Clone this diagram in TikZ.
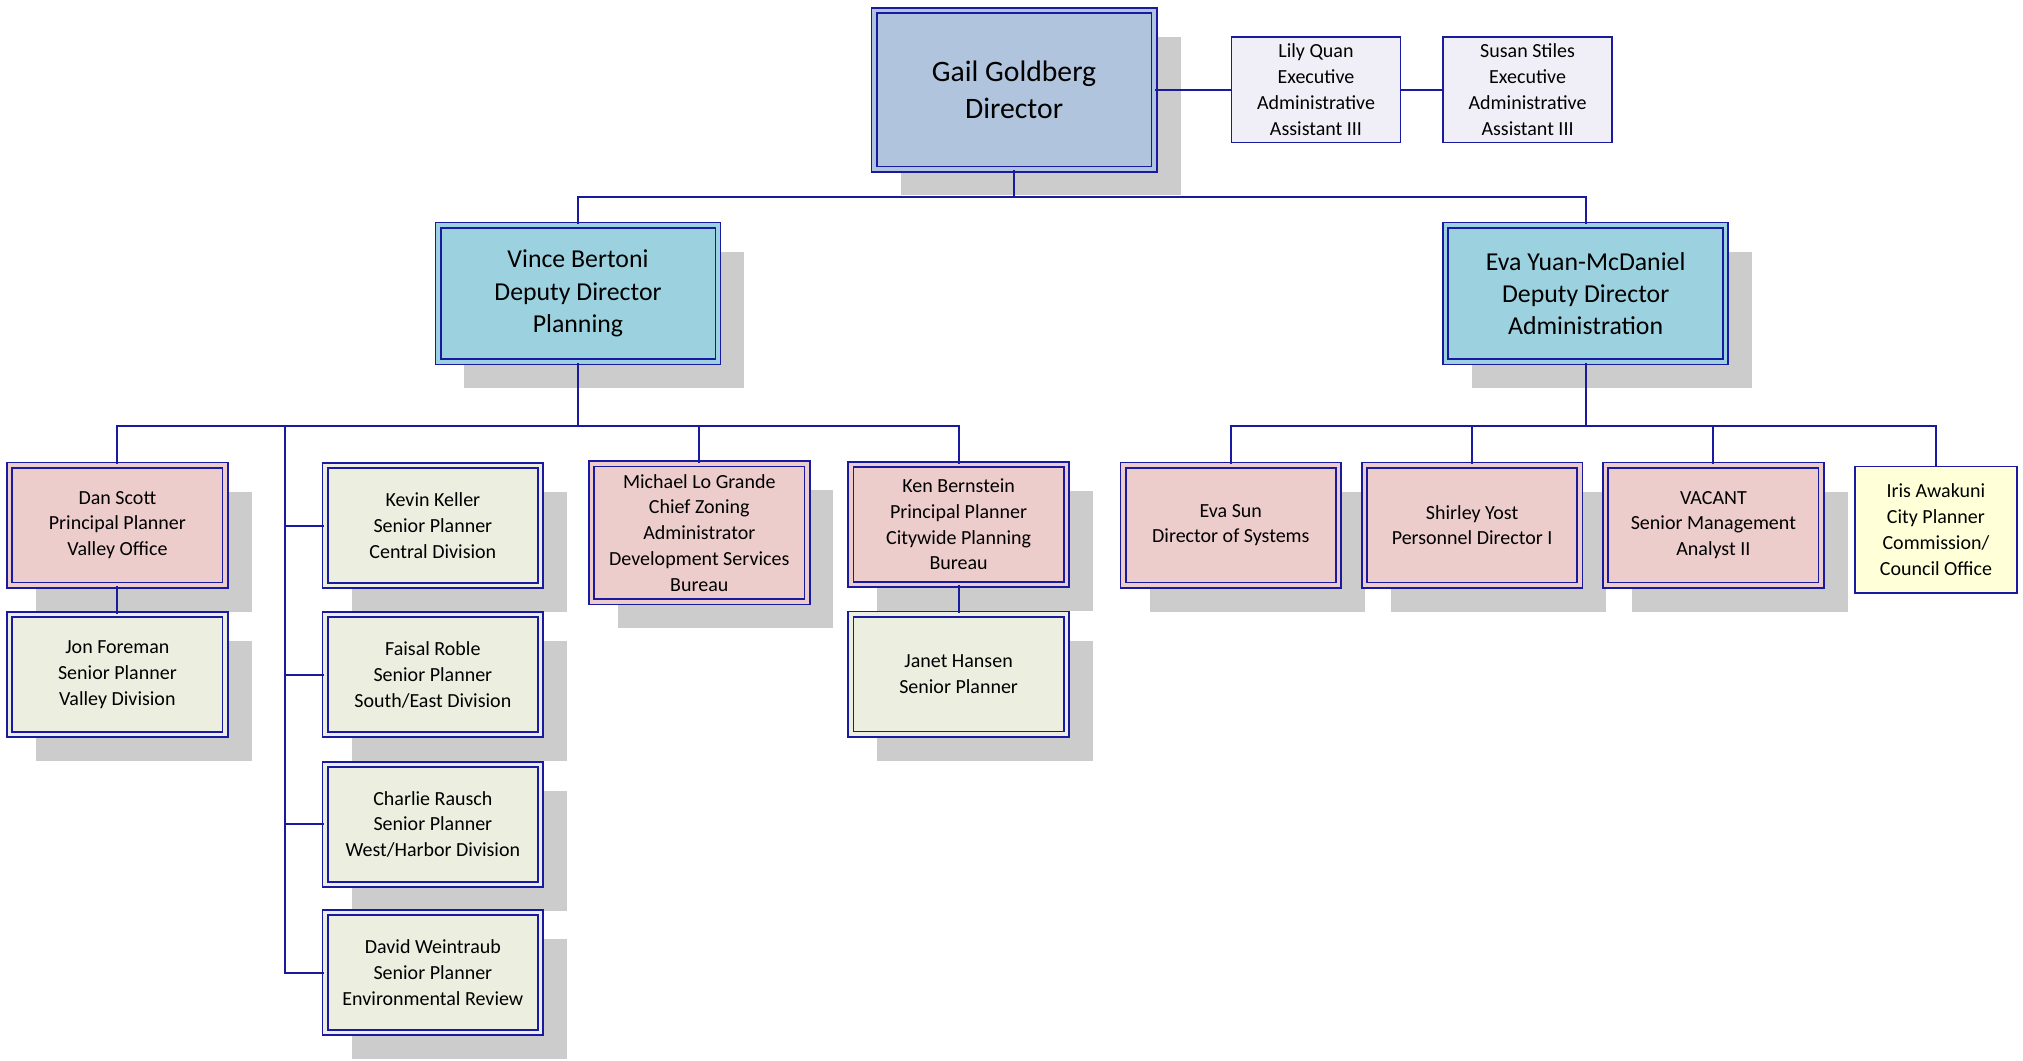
\documentclass[tikz,border=0pt]{standalone}
\usepackage{fontspec}
\setmainfont{Carlito}
\usetikzlibrary{shadows}
\definecolor{lineblue}{HTML}{1A1AA0}
\definecolor{gailfill}{HTML}{B0C4DE}
\definecolor{depfill}{HTML}{9CD2DF}
\definecolor{pinkfill}{HTML}{EDCCCC}
\definecolor{greenfill}{HTML}{ECEEDF}
\definecolor{lavfill}{HTML}{F0EFF7}
\definecolor{yelfill}{HTML}{FFFFD8}
\definecolor{shadowgray}{HTML}{CCCCCC}
\tikzset{
  base/.style={rectangle, inner sep=0pt, align=center, text=black},
  shad/.style={drop shadow={shadow xshift=20.5pt, shadow yshift=-20.5pt, fill=shadowgray, opacity=1}},
  dbl/.style={draw=lineblue, line width=1.4pt, double distance=2.6pt},
  gailbox/.style={base, shad, dbl, double=gailfill, fill=gailfill, minimum width=217pt, minimum height=123pt, font=\fontsize{23}{29}\selectfont},
  depbox/.style={base, shad, dbl, double=depfill, fill=depfill, minimum width=217pt, minimum height=106pt, font=\fontsize{20}{25}\selectfont},
  pinkbox/.style={base, shad, dbl, double=pinkfill, fill=pinkfill, minimum width=167pt, minimum height=93pt, font=\fontsize{15.5}{20}\selectfont},
  greenbox/.style={base, shad, dbl, double=greenfill, fill=greenfill, minimum width=167pt, minimum height=93pt, font=\fontsize{15.5}{20}\selectfont},
  lavbox/.style={base, draw=lineblue, line width=1.4pt, fill=lavfill, minimum width=131pt, minimum height=82pt, font=\fontsize{15.5}{20}\selectfont},
  yelbox/.style={base, draw=lineblue, line width=1.4pt, fill=yelfill, minimum width=126pt, minimum height=98pt, font=\fontsize{15.5}{20}\selectfont},
  conn/.style={draw=lineblue, line width=1.5pt},
}
\begin{document}
\begin{tikzpicture}[x=1pt, y=-1pt]
\useasboundingbox (0,0) rectangle (1568,822);
% top
\node[gailbox] (gail) at (786,69.5) {Gail Goldberg\\Director};
\node[lavbox] (lily) at (1020,69.5) {Lily Quan\\Executive\\Administrative\\Assistant III};
\node[lavbox] (susan) at (1184,69.5) {Susan Stiles\\Executive\\Administrative\\Assistant III};
% deputies
\node[depbox] (vince) at (448,227.5) {Vince Bertoni\\Deputy Director\\Planning};
\node[depbox] (eva) at (1229,227.5) {Eva Yuan-McDaniel\\Deputy Director\\Administration};
% planning side
\node[pinkbox] (dan) at (91,407) {Dan Scott\\Principal Planner\\Valley Office};
\node[greenbox] (jon) at (91,523) {Jon Foreman\\Senior Planner\\Valley Division};
\node[greenbox] (kevin) at (335.5,407.5) {Kevin Keller\\Senior Planner\\Central Division};
\node[greenbox] (faisal) at (335.5,523) {Faisal Roble\\Senior Planner\\South/East Division};
\node[greenbox] (charlie) at (335.5,639) {Charlie Rausch\\Senior Planner\\West/Harbor Division};
\node[greenbox] (david) at (335.5,754) {David Weintraub\\Senior Planner\\Environmental Review};
\node[pinkbox, minimum height=107pt] (michael) at (542,413) {Michael Lo Grande\\Chief Zoning\\Administrator\\Development Services\\Bureau};
\node[pinkbox] (ken) at (743,406.5) {Ken Bernstein\\Principal Planner\\Citywide Planning\\Bureau};
\node[greenbox] (janet) at (743,522.5) {Janet Hansen\\Senior Planner};
% administration side
\node[pinkbox] (evasun) at (954,407) {Eva Sun\\Director of Systems};
\node[pinkbox] (shirley) at (1141,407) {Shirley Yost\\Personnel Director I};
\node[pinkbox] (vacant) at (1328,407) {VACANT\\Senior Management\\Analyst II};
\node[yelbox] (iris) at (1500.5,410.5) {Iris Awakuni\\City Planner\\Commission/\\Council Office};
% bus coordinates
\coordinate (busT) at (786,153);
\coordinate (busL) at (448,330);
\coordinate (busR) at (1229,330);
\coordinate (trunk) at (221,330);
% connectors
\draw[conn] (gail.east) -- (lily.west);
\draw[conn] (lily.east) -- (susan.west);
\draw[conn] (gail.south) -- (busT);
\draw[conn] (vince.north) |- (busT) -| (eva.north);
\draw[conn] (vince.south) -- (busL);
\draw[conn] (dan.north) |- (busL) -| (ken.north);
\draw[conn] (michael.north) -- (michael.north |- busL);
\draw[conn] (trunk) |- (david.west);
\draw[conn] (trunk |- kevin.west) -- (kevin.west);
\draw[conn] (trunk |- faisal.west) -- (faisal.west);
\draw[conn] (trunk |- charlie.west) -- (charlie.west);
\draw[conn] (dan.south) -- (jon.north);
\draw[conn] (ken.south) -- (janet.north);
\draw[conn] (eva.south) -- (busR);
\draw[conn] (evasun.north) |- (busR) -| (iris.north);
\draw[conn] (shirley.north) -- (shirley.north |- busR);
\draw[conn] (vacant.north) -- (vacant.north |- busR);
\end{tikzpicture}
\end{document}
